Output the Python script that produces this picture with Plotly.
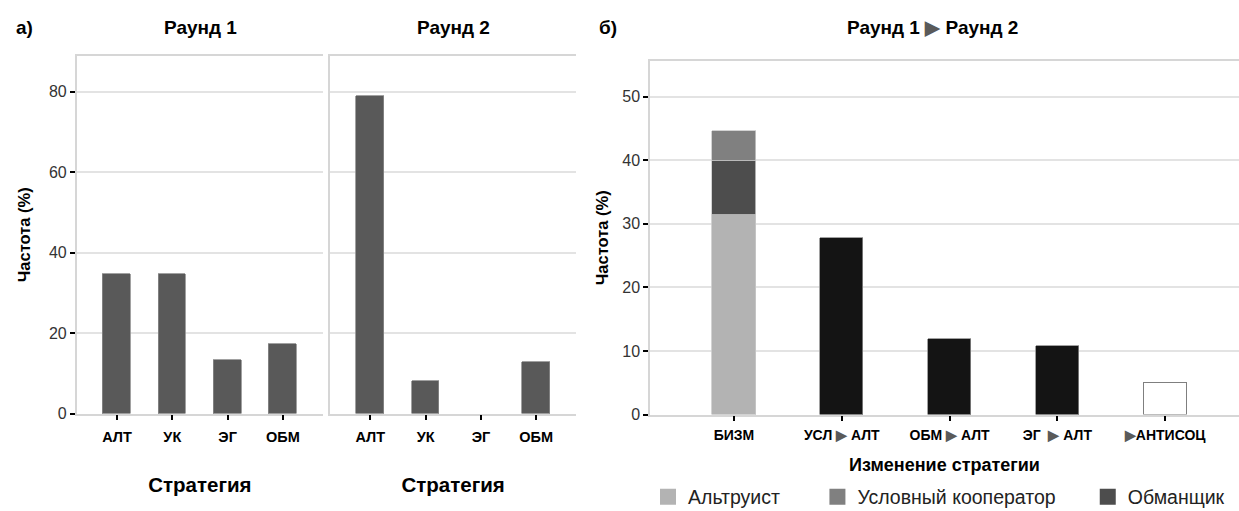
import plotly.graph_objects as go

# ---------------- data ----------------
strategies = ["АЛТ", "УК", "ЭГ", "ОБМ"]
round1 = [34.7, 34.7, 13.2, 17.3]
round2 = [78.9, 8.1, 0.0, 12.9]

change_cats = ["БИЗМ", "УСЛ▶АЛТ", "ОБМ▶АЛТ", "ЭГ▶АЛТ", "▶АНТИСОЦ"]
arrow = "<span style='color:#5a5a5a'>▶</span>"
change_ticktext = ["БИЗМ", "УСЛ " + arrow + " АЛТ", "ОБМ " + arrow + " АЛТ",
                   "ЭГ  " + arrow + " АЛТ", arrow + "АНТИСОЦ"]
nochange_altruist = [31.45]
nochange_cheater = [8.45]
nochange_conditional = [4.75]
switch_cats = ["УСЛ▶АЛТ", "ОБМ▶АЛТ", "ЭГ▶АЛТ"]
switch_vals = [27.7, 11.95, 10.85]
antisocial_vals = [4.9]

legend_names = ["Альтруист", "Условный кооператор", "Обманщик"]
legend_colors = ["#b3b3b3", "#808080", "#4d4d4d"]

yticks_a = [0, 20, 40, 60, 80]
yticks_b = [0, 10, 20, 30, 40, 50]

# ---------------- layout geometry ----------------
W, H = 1239, 511
FONT = "Liberation Sans, Arial, sans-serif"


def px_x(v):
    return v / W


def px_y(v):
    return 1 - v / H


dom_y_a = [px_y(413.5), px_y(56)]
dom_y_b = [px_y(414.5), px_y(61)]

fig = go.Figure()

bar_line_a = dict(color="#8a8a8a", width=[0.8 if v > 0 else 0 for v in round2])

# panel a bars
fig.add_trace(go.Bar(x=strategies, y=round1, xaxis="x", yaxis="y", width=0.5,
                     marker=dict(color="#595959", line=dict(color="#8a8a8a", width=0.8)),
                     showlegend=False, name="Раунд 1"))
fig.add_trace(go.Bar(x=strategies, y=round2, xaxis="x2", yaxis="y2", width=0.5,
                     marker=dict(color="#595959", line=bar_line_a),
                     showlegend=False, name="Раунд 2"))

# panel b stacked bar
fig.add_trace(go.Bar(x=change_cats[:1], y=nochange_altruist, xaxis="x3", yaxis="y3", width=0.4,
                     marker=dict(color=legend_colors[0], line=dict(color="#c8c8c8", width=0.8)),
                     showlegend=False, name=legend_names[0]))
fig.add_trace(go.Bar(x=change_cats[:1], y=nochange_cheater, xaxis="x3", yaxis="y3", width=0.4,
                     marker=dict(color=legend_colors[2], line=dict(color="#c8c8c8", width=0.8)),
                     showlegend=False, name=legend_names[2]))
fig.add_trace(go.Bar(x=change_cats[:1], y=nochange_conditional, xaxis="x3", yaxis="y3", width=0.4,
                     marker=dict(color=legend_colors[1], line=dict(color="#c8c8c8", width=0.8)),
                     showlegend=False, name=legend_names[1]))
fig.add_trace(go.Bar(x=switch_cats, y=switch_vals, xaxis="x3", yaxis="y3", width=0.4,
                     marker=dict(color="#141414", line=dict(color="#8a8a8a", width=0.8)),
                     showlegend=False, name="переход"))
fig.add_trace(go.Bar(x=change_cats[4:], y=antisocial_vals, xaxis="x3", yaxis="y3", width=0.4,
                     marker=dict(color="white", line=dict(color="#7f7f7f", width=1.5)),
                     showlegend=False, name="антисоц"))

# legend entries (big squares); trailing spaces only widen the entries
legend_pad = ["\u00a0" * 6, "\u00a0" * 5, ""]
for nm, col, pad in zip(legend_names, legend_colors, legend_pad):
    fig.add_trace(go.Scatter(x=[None], y=[None], xaxis="x3", yaxis="y3", mode="markers",
                             marker=dict(symbol="square", size=23, color=col),
                             name=nm + pad, showlegend=True))

grid = "#e3e3e3"
border = "#d6d6d6"


def xaxis_cfg(size, standoff):
    return dict(type="category", showline=True, mirror=True, linecolor=border, linewidth=1.5,
                showgrid=False, ticks="outside", ticklen=5, tickwidth=2, tickcolor="black",
                tickfont=dict(family=FONT, size=size, color="black", weight="bold"),
                ticklabelstandoff=standoff,
                zeroline=False, fixedrange=True, automargin=False)


def yaxis_cfg():
    return dict(showline=True, linecolor=border, linewidth=1.5, mirror=False,
                showgrid=True, gridcolor=grid, gridwidth=1.5, zeroline=False,
                ticks="outside", ticklen=5, tickwidth=2, tickcolor="black",
                tickfont=dict(family=FONT, size=16, color="#333333"),
                fixedrange=True, automargin=False)


fig.update_layout(
    width=W, height=H, autosize=False,
    margin=dict(l=0, r=0, t=0, b=0, autoexpand=False),
    paper_bgcolor="white", plot_bgcolor="white",
    barmode="stack", bargap=0,
    font=dict(family=FONT, color="black"),
    xaxis=dict(xaxis_cfg(14.5, 4), domain=[px_x(76.7), px_x(323)], range=[-0.729, 3.725],
               categoryorder="array", categoryarray=strategies,
               title=dict(text="<b>Стратегия</b>", standoff=34,
                          font=dict(family=FONT, size=20.5, color="black")),
               anchor="y"),
    xaxis2=dict(xaxis_cfg(14.5, 4), domain=[px_x(330), px_x(576.3)], range=[-0.729, 3.725],
                categoryorder="array", categoryarray=strategies,
                title=dict(text="<b>Стратегия</b>", standoff=34,
                           font=dict(family=FONT, size=20.5, color="black")),
                anchor="y2"),
    xaxis3=dict(xaxis_cfg(14, 2), domain=[px_x(650), 1.0], range=[-0.779, 4.685],
                categoryorder="array", categoryarray=change_cats,
                tickvals=change_cats, ticktext=change_ticktext,
                title=dict(text="<b>Изменение стратегии</b>", standoff=16,
                           font=dict(family=FONT, size=18, color="black")),
                anchor="y3"),
    yaxis=dict(yaxis_cfg(), domain=dom_y_a, range=[0, 88.9], tickvals=yticks_a,
               title=dict(text="<b>Частота (%)</b>", standoff=14,
                          font=dict(family=FONT, size=16.5, color="black")),
               anchor="x"),
    yaxis2=dict(yaxis_cfg(), domain=dom_y_a, range=[0, 88.9], tickvals=yticks_a,
                showticklabels=False, ticks="", anchor="x2"),
    yaxis3=dict(yaxis_cfg(), domain=dom_y_b, range=[0, 55.6], tickvals=yticks_b,
                title=dict(text="<b>Частота (%)</b>", standoff=9,
                           font=dict(family=FONT, size=16.5, color="black")),
                anchor="x3"),
    legend=dict(orientation="h", x=px_x(648), xanchor="left", y=px_y(497), yanchor="middle",
                font=dict(family=FONT, size=19.5, color="#222222"),
                itemsizing="trace", bgcolor="rgba(0,0,0,0)", traceorder="normal"),
    showlegend=True,
)

title_font = dict(family=FONT, size=19, color="black")
annots = [
    dict(text="<b>а)</b>", x=px_x(14), y=px_y(27), xanchor="left"),
    dict(text="<b>Раунд 1</b>", x=px_x(200), y=px_y(27), xanchor="center"),
    dict(text="<b>Раунд 2</b>", x=px_x(453), y=px_y(27), xanchor="center"),
    dict(text="<b>б)</b>", x=px_x(597), y=px_y(27), xanchor="left"),
    dict(text="<b>Раунд 1 " + arrow + " Раунд 2</b>", x=px_x(932), y=px_y(27), xanchor="center"),
]
for a in annots:
    fig.add_annotation(xref="paper", yref="paper", yanchor="middle", showarrow=False,
                       font=title_font, **a)

fig.write_html(
    "out.html",
    config={"displayModeBar": False},
    post_script="document.body.style.margin='0';document.body.style.overflow='hidden';",
)
